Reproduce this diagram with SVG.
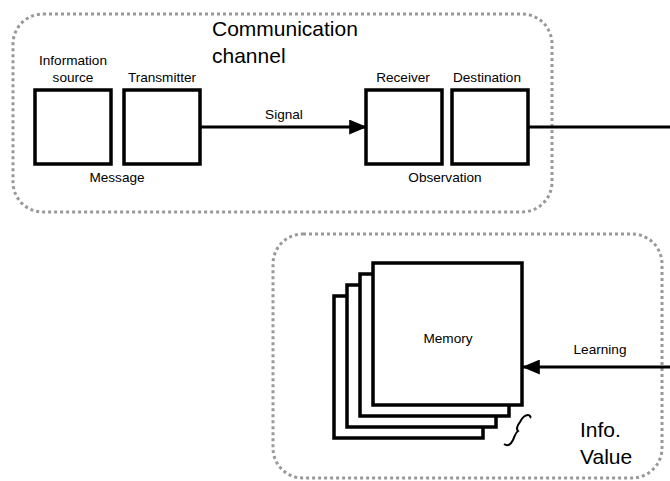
<svg xmlns="http://www.w3.org/2000/svg" width="670" height="481" viewBox="0 0 670 481">
<style>
.grp{fill:none;stroke:#999;stroke-width:3;stroke-dasharray:3 3}
.box{fill:#fff;stroke:#000;stroke-width:3.5}
.t{font-family:"Liberation Sans",Arial,sans-serif;fill:#000;text-anchor:middle}
.s{font-size:13.6px}
.b{font-size:21px;text-anchor:start}
.ln{fill:none;stroke:#000;stroke-width:3}
</style>
<defs>
<marker id="ah" markerWidth="6" markerHeight="5" refX="5.6" refY="2.5" orient="auto" markerUnits="strokeWidth">
<path d="M0,0 L6,2.5 L0,5 Z" fill="#000"/>
</marker>
</defs>
<g id="channel">
<rect class="grp" x="13" y="14" width="539" height="198" rx="30"/>
<text class="t b" x="212" y="36">Communication</text>
<text class="t b" x="212" y="63">channel</text>
</g>
<g id="info-group">
<rect class="grp" x="273" y="234" width="389" height="244" rx="30"/>
<text class="t b" x="580" y="437">Info.</text>
<text class="t b" x="580" y="464">Value</text>
</g>
<g id="source">
<rect class="box" x="35" y="90" width="76" height="74"/>
<text class="t s" x="73" y="65">Information</text>
<text class="t s" x="73" y="82">source</text>
</g>
<g id="transmitter">
<rect class="box" x="124" y="90" width="76" height="74"/>
<text class="t s" x="162" y="82">Transmitter</text>
</g>
<g id="receiver">
<rect class="box" x="366" y="90" width="76" height="74"/>
<text class="t s" x="403" y="82">Receiver</text>
</g>
<g id="destination">
<rect class="box" x="452" y="90" width="76" height="74"/>
<text class="t s" x="487" y="82">Destination</text>
</g>
<text class="t s" x="117" y="182">Message</text>
<text class="t s" x="445" y="182">Observation</text>
<g id="memory">
<rect class="box" x="334" y="296" width="149" height="142"/>
<rect class="box" x="347" y="285" width="149" height="142"/>
<rect class="box" x="360" y="274" width="149" height="142"/>
<rect class="box" x="373" y="263" width="149" height="142"/>
<text class="t s" x="448" y="343">Memory</text>
<path d="M504,444 C508,447 511,444 513,440 C515,436 515,433 518,431 C516,429 517,426 520,422 C522,418 525,415 528,415 C530,415 531,417 530,418" fill="none" stroke="#000" stroke-width="2"/>
</g>
<g id="connectors">
<line class="ln" x1="200" y1="127" x2="366" y2="127" marker-end="url(#ah)"/>
<text class="t s" x="284" y="119">Signal</text>
<line class="ln" x1="528" y1="127" x2="670" y2="127"/>
<line class="ln" x1="670" y1="367" x2="523" y2="367" marker-end="url(#ah)"/>
<text class="t s" x="600" y="354">Learning</text>
</g>
</svg>
